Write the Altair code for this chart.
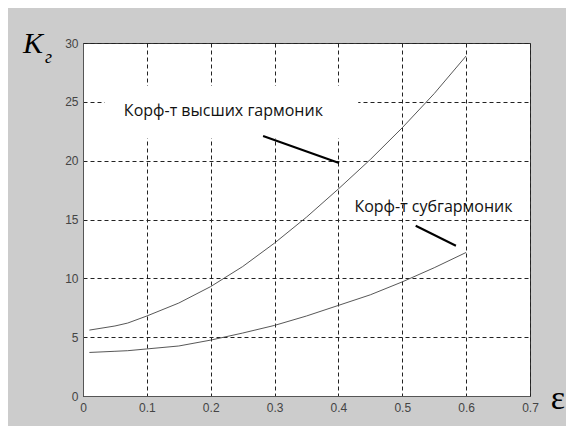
import altair as alt
import pandas as pd

# Data
eps = [0.01, 0.05, 0.07, 0.10, 0.15, 0.20, 0.25, 0.30, 0.35, 0.40, 0.45, 0.50, 0.55, 0.60]
k_high = [5.6, 5.95, 6.2, 6.8, 7.9, 9.3, 11.0, 13.0, 15.2, 17.6, 20.1, 22.8, 25.7, 28.9]
k_sub = [3.7, 3.8, 3.85, 4.0, 4.25, 4.75, 5.35, 6.0, 6.8, 7.7, 8.6, 9.7, 10.9, 12.2]

label_texts = ["Корф-т высших гармоник", "Корф-т субгармоник"]
label_x = [0.064, 0.425]
label_y = [24.2, 16.1]

# leader lines (start / end in data units)
lead_x = [0.282, 0.521]
lead_y = [22.1, 14.47]
lead_x2 = [0.401, 0.584]
lead_y2 = [19.8, 12.77]

# white box behind the first label
box_x, box_x2 = [0.034], [0.431]
box_y, box_y2 = [21.9], [26.35]

x_ticks = [0, 0.1, 0.2, 0.3, 0.4, 0.5, 0.6, 0.7]
y_ticks = [0, 5, 10, 15, 20, 25, 30]

curves = pd.DataFrame({
    "eps": eps * 2,
    "k": k_high + k_sub,
    "series": ["high"] * len(eps) + ["sub"] * len(eps),
})
labels = pd.DataFrame({"x": label_x, "y": label_y, "t": label_texts})
leads = pd.DataFrame({"x": lead_x, "y": lead_y, "x2": lead_x2, "y2": lead_y2})
box = pd.DataFrame({"x": box_x, "x2": box_x2, "y": box_y, "y2": box_y2})

xscale = alt.Scale(domain=[0, 0.7], nice=False, zero=False)
yscale = alt.Scale(domain=[0, 30], nice=False, zero=False)

xaxis = alt.Axis(values=x_ticks, format="~g", title=None, grid=True,
                 gridDash=[4, 3], gridColor="#222222", gridOpacity=1, gridWidth=1,
                 ticks=False, labelPadding=6, labelFont="Liberation Sans",
                 labelFontSize=12, labelColor="#444444", domainColor="#555555",
                 labelFlush=False)
yaxis = alt.Axis(values=y_ticks, title=None, grid=True,
                 gridDash=[4, 3], gridColor="#222222", gridOpacity=1, gridWidth=1,
                 ticks=False, labelPadding=5, labelFont="Liberation Sans",
                 labelFontSize=12, labelColor="#444444", domainColor="#555555",
                 labelFlush=False)

base_lines = alt.Chart(curves).mark_line(color="#444444", strokeWidth=0.9).encode(
    x=alt.X("eps:Q", scale=xscale, axis=xaxis),
    y=alt.Y("k:Q", scale=yscale, axis=yaxis),
    detail="series:N",
)

box_mark = alt.Chart(box).mark_rect(color="white").encode(
    x=alt.X("x:Q", scale=xscale), x2="x2:Q",
    y=alt.Y("y:Q", scale=yscale), y2="y2:Q",
)

lead_mark = alt.Chart(leads).mark_rule(color="black", strokeWidth=2).encode(
    x=alt.X("x:Q", scale=xscale), x2="x2:Q",
    y=alt.Y("y:Q", scale=yscale), y2="y2:Q",
)

text_mark = alt.Chart(labels).mark_text(
    align="left", baseline="middle", font="Open Sans", fontSize=16, color="#111111"
).encode(
    x=alt.X("x:Q", scale=xscale),
    y=alt.Y("y:Q", scale=yscale),
    text="t:N",
)

k_title = alt.Chart(pd.DataFrame({"t": ["K"]})).mark_text(
    align="left", baseline="alphabetic", font="Liberation Serif", fontStyle="italic",
    fontSize=30, color="black"
).encode(x=alt.value(-60), y=alt.value(10), text="t:N")

k_sub_title = alt.Chart(pd.DataFrame({"t": ["г"]})).mark_text(
    align="left", baseline="alphabetic", font="Liberation Serif", fontStyle="italic",
    fontSize=18, color="black"
).encode(x=alt.value(-38), y=alt.value(20), text="t:N")

eps_title = alt.Chart(pd.DataFrame({"t": ["ε"]})).mark_text(
    align="center", baseline="alphabetic", font="Liberation Serif",
    fontSize=34, color="black"
).encode(x=alt.value(475), y=alt.value(366), text="t:N")

chart = alt.layer(
    box_mark, base_lines, lead_mark, text_mark, k_title, k_sub_title, eps_title
).properties(
    width=447, height=353,
    padding={"left": 75, "top": 35, "right": 36, "bottom": 30},
    autosize=alt.AutoSizeParams(type="none"),
    background="#cccccc",
).configure_view(
    fill="white", stroke="#333333", strokeWidth=1
)

chart.save("out.html", embed_options={"renderer": "svg", "actions": False})
